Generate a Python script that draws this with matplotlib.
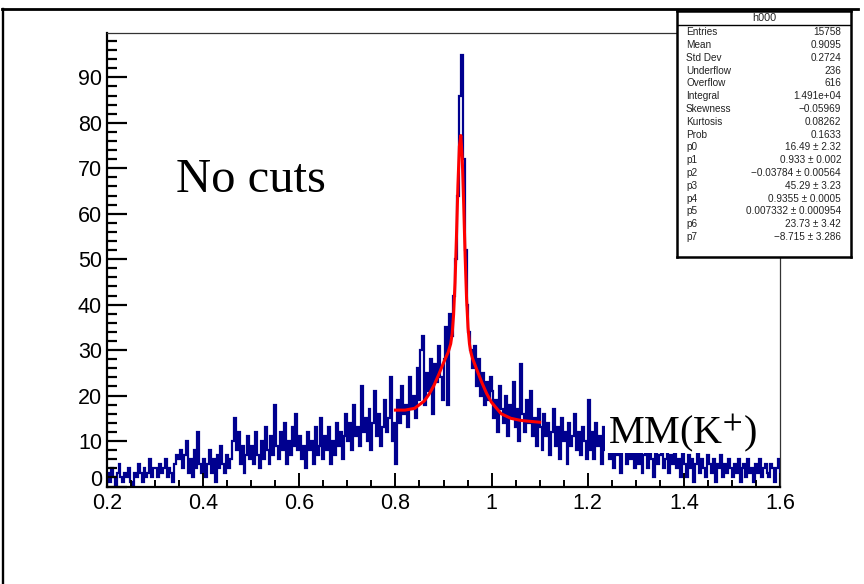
import matplotlib
matplotlib.use('Agg')
import matplotlib.pyplot as plt
import matplotlib.ticker as ticker
from matplotlib.patches import Rectangle
from matplotlib.lines import Line2D
import numpy as np

# histogram binning (0.2 - 1.6, 350 bins)
x_min = 0.2
x_max = 1.6
n_bins = 350

# bin contents, one line per 0.1 in MM(K+)
counts = [
    3, 1, 4, 2, 0, 3, 5, 2, 1, 3, 2, 4, 1, 0, 3, 2, 5, 3, 1, 4, 2, 3, 6, 2, 4,
    4, 2, 5, 3, 4, 6, 2, 4, 3, 1, 5, 7, 6, 8, 4, 7, 10, 3, 6, 2, 8, 4, 12, 5, 3,
    6, 2, 5, 8, 3, 6, 1, 7, 4, 9, 5, 3, 7, 4, 6, 10, 15, 8, 12, 5, 9, 3, 7, 11, 6,
    9, 5, 12, 7, 4, 10, 6, 13, 8, 5, 11, 7, 18, 9, 6, 12, 8, 14, 5, 10, 7, 13, 9, 16, 8,
    11, 6, 9, 4, 12, 8, 10, 5, 13, 7, 9, 15, 6, 11, 8, 13, 5, 10, 7, 14, 9, 12, 6, 11, 16,
    10, 14, 8, 18, 11, 13, 9, 22, 12, 15, 10, 17, 8, 14, 21, 11, 16, 9, 13, 19, 12, 15, 24, 10, 14,
    5, 19, 14, 22, 16, 18, 13, 24, 17, 20, 15, 26, 19, 30, 33, 18, 25, 21, 28, 16, 27, 23, 31, 24, 19,
    28, 35, 18, 38, 33, 42, 50, 64, 86, 95, 72, 52, 40, 34, 30, 26, 31, 22, 28, 20, 25, 18, 23, 19, 24,
    21, 15, 19, 12, 22, 17, 14, 20, 11, 18, 15, 23, 13, 17, 10, 27, 16, 12, 19, 14, 21, 11, 15, 9, 17,
    13, 8, 16, 11, 14, 7, 12, 17, 9, 13, 6, 15, 10, 12, 5, 14, 9, 11, 16, 8, 12, 7, 13, 10, 6,
    19, 8, 12, 6, 14, 9, 11, 5, 13, 8, 10, 6, 9, 4, 11, 7, 9, 3, 8, 10, 5, 9, 6, 12, 4,
    8, 5, 9, 3, 7, 10, 4, 8, 6, 2, 9, 5, 7, 11, 4, 6, 8, 3, 7, 5, 9, 4, 6, 2, 8,
    5, 2, 7, 4, 6, 1, 5, 8, 3, 6, 4, 2, 7, 5, 3, 6, 1, 5, 4, 7, 2, 5, 3, 6, 4,
    2, 5, 3, 6, 1, 4, 5, 2, 6, 3, 4, 1, 5, 3, 6, 2, 4, 5, 3, 2, 5, 4, 1, 4, 6,
]

# fit curve
fit_x = [0.80, 0.82, 0.84, 0.86, 0.87, 0.88, 0.89, 0.90, 0.91, 0.915, 0.918,
         0.921, 0.924, 0.927, 0.930, 0.933, 0.936, 0.939, 0.942, 0.945, 0.948,
         0.951, 0.954, 0.957, 0.960, 0.97, 0.98, 0.99, 1.00, 1.02, 1.04, 1.06,
         1.08, 1.10]
fit_y = [16.8, 16.8, 17.2, 18.8, 20.3, 22.2, 24.6, 27.2, 29.6, 31.4, 33.6,
         37.8, 44.9, 55.1, 66.2, 74.8, 77.2, 72.2, 62.1, 50.7, 41.3,
         35.0, 31.4, 29.5, 28.3, 25.5, 22.8, 20.4, 18.5, 16.0, 15.0, 14.55,
         14.33, 14.14]

# stats box contents
stats_title = "h000"
stats_labels = ["Entries", "Mean", "Std Dev", "Underflow", "Overflow", "Integral",
                "Skewness", "Kurtosis", "Prob", "p0", "p1", "p2", "p3", "p4",
                "p5", "p6", "p7"]
stats_values = ["15758", "0.9095", "0.2724", "236", "616", "1.491e+04",
                "\u22120.05969", "0.08262", "0.1633", "16.49 \u00b1 2.32",
                "0.933 \u00b1 0.002", "\u22120.03784 \u00b1 0.00564",
                "45.29 \u00b1 3.23", "0.9355 \u00b1 0.0005",
                "0.007332 \u00b1 0.000954", "23.73 \u00b1 3.42",
                "\u22128.715 \u00b1 3.286"]

W, H = 864, 584


def fx(px):
    return px / W


def fy(py):
    return 1 - py / H


plt.rcParams['font.family'] = ['Liberation Sans', 'DejaVu Sans']
plt.rcParams['mathtext.fontset'] = 'stix'

fig = plt.figure(figsize=(8.64, 5.84), dpi=100)
fig.patch.set_facecolor('white')

ax = fig.add_axes([fx(107), fy(486.5), fx(780) - fx(107), fy(33) - fy(486.5)])

# histogram (thick outline so that the dense bins read as a filled band)
edges = np.linspace(x_min, x_max, n_bins + 1)
ax.stairs(counts, edges, color='#00008f', lw=1.6, baseline=0)
ax.plot(fit_x, fit_y, color='#ff0000', lw=2.2)

ax.set_xlim(0.2, 1.6)
ax.set_ylim(0, 99.75)

ax.xaxis.set_major_locator(ticker.MultipleLocator(0.2))
ax.xaxis.set_minor_locator(ticker.MultipleLocator(0.05))
ax.yaxis.set_major_locator(ticker.MultipleLocator(10))
ax.yaxis.set_minor_locator(ticker.MultipleLocator(2))
ax.xaxis.set_major_formatter(ticker.FuncFormatter(lambda v, p: '%g' % round(v, 3)))
# the "0" of the y axis is drawn by hand below, a little higher
ax.yaxis.set_major_formatter(ticker.FuncFormatter(
    lambda v, p: '' if abs(v) < 1e-9 else '%g' % round(v, 3)))

ax.tick_params(axis='x', which='major', direction='in', length=10, width=1.4,
               labelsize=15.5, pad=5, top=False)
ax.tick_params(axis='x', which='minor', direction='in', length=5, width=1.4, top=False)
ax.tick_params(axis='y', which='major', direction='in', length=14.4, width=1.6,
               labelsize=15.5, pad=3.6, right=False)
ax.tick_params(axis='y', which='minor', direction='in', length=7.2, width=1.6, right=False)

ax.annotate('0', xy=(0, 0), xycoords=('axes fraction', 'data'),
            xytext=(-3.6, 4.5), textcoords='offset points',
            ha='right', va='center', fontsize=15.5)

for s in ['left', 'bottom']:
    ax.spines[s].set_linewidth(1.6)
for s in ['top', 'right']:
    ax.spines[s].set_linewidth(0.9)
    ax.spines[s].set_color('#333333')

# labels drawn on the canvas
fig.text(fx(176), fy(192), "No cuts", fontsize=35, family='Liberation Serif',
         va='baseline', ha='left')

fig.add_artist(Rectangle((fx(605), fy(453)), fx(757) - fx(605), fy(412) - fy(453),
                         transform=fig.transFigure, facecolor='white',
                         edgecolor='none', zorder=2))
fig.text(fx(608), fy(443), "MM(K$^{+}$)", fontsize=29, family='Liberation Serif',
         va='baseline', ha='left', zorder=3)

# stats box
sax = fig.add_axes([fx(677), fy(257), fx(851) - fx(677), fy(11) - fy(257)])
sax.set_xlim(0, 1)
sax.set_ylim(0, 1)
sax.set_xticks([])
sax.set_yticks([])
for s in sax.spines.values():
    s.set_linewidth(1.8)
sax.axhline((257 - 25) / 246, color='black', lw=1.0)
sax.text(0.5, (257 - 18) / 246, stats_title, ha='center', va='center',
         fontsize=7.8, color='#222222')
for i, (lab, val) in enumerate(zip(stats_labels, stats_values)):
    yy = (257 - (32.3 + i * 12.8)) / 246
    sax.text(0.052, yy, lab, ha='left', va='center', fontsize=7.2, color='#222222')
    sax.text(0.943, yy, val, ha='right', va='center', fontsize=7.2, color='#222222')

# border of the screenshot (top and left)
fig.add_artist(Line2D([fx(2), fx(858)], [fy(8.7), fy(8.7)], transform=fig.transFigure,
                      color='black', lw=2.0))
fig.add_artist(Line2D([fx(2.8), fx(2.8)], [fy(8.7), fy(584)], transform=fig.transFigure,
                      color='black', lw=1.7))

plt.savefig('out.png', dpi=100)
plt.close()
